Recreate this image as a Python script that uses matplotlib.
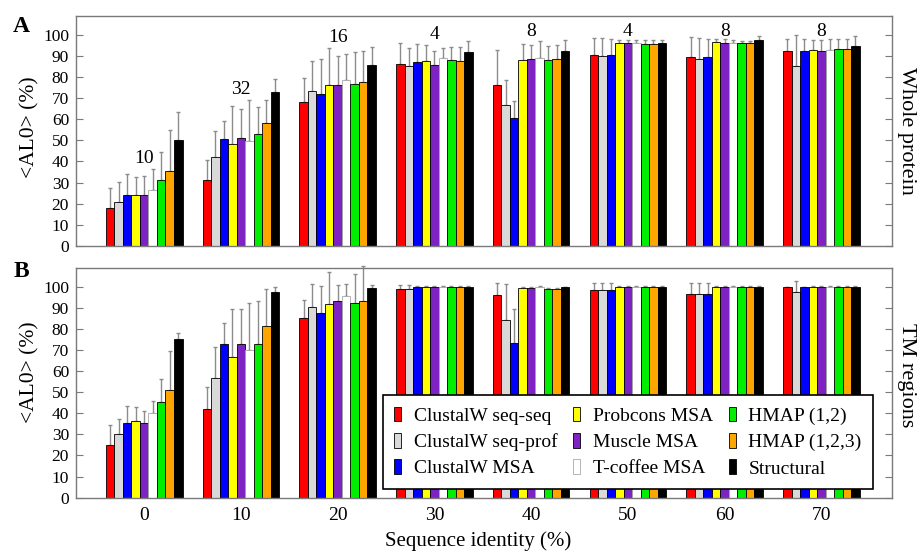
import numpy as np
import matplotlib
matplotlib.use('Agg')
import matplotlib.pyplot as plt

plt.rcParams['font.family'] = ['Liberation Serif', 'DejaVu Serif']

# Sequence identity bins (%)
identity = [0, 10, 20, 30, 40, 50, 60, 70]
# number of pairs per bin (printed over panel A)
n_pairs = [10, 32, 16, 4, 8, 4, 8, 8]

methods = ['ClustalW seq-seq', 'ClustalW seq-prof', 'ClustalW MSA',
           'Probcons MSA', 'Muscle MSA', 'T-coffee MSA',
           'HMAP (1,2)', 'HMAP (1,2,3)', 'Structural']
colors = ['#ff0000', '#d9d9d9', '#0000ff', '#ffff00', '#7f22c4',
          '#ffffff', '#00ee00', '#ffa500', '#000000']

# Panel A: whole protein, <AL0> mean (rows = methods, cols = identity bins)
whole_mean = [
    [17.9, 31.3, 68.1, 86.3, 76.3, 90.5, 89.4, 92.4],
    [21.0, 42.0, 73.5, 85.0, 66.8, 90.0, 88.5, 85.3],
    [24.2, 50.6, 72.0, 87.2, 60.8, 90.2, 89.3, 92.4],
    [24.2, 48.2, 76.1, 87.5, 88.2, 96.0, 96.4, 92.9],
    [24.2, 51.3, 76.1, 85.8, 88.5, 96.0, 96.0, 92.4],
    [26.5, 49.8, 78.4, 88.8, 88.9, 96.0, 96.0, 92.6],
    [31.3, 52.8, 76.9, 87.8, 88.2, 95.7, 96.0, 93.2],
    [35.7, 58.1, 77.4, 87.7, 88.5, 95.7, 96.0, 93.2],
    [50.2, 73.0, 85.8, 91.8, 92.1, 96.0, 97.6, 94.5],
]
whole_sd = [
    [9.4, 9.5, 11.4, 9.6, 16.6, 7.9, 9.3, 5.5],
    [9.5, 12.2, 14.2, 8.8, 11.6, 8.4, 9.9, 14.7],
    [9.9, 8.6, 16.5, 8.4, 7.6, 7.7, 8.8, 5.5],
    [8.3, 18.2, 17.6, 7.4, 7.5, 1.6, 1.5, 4.7],
    [8.7, 13.6, 13.6, 6.5, 6.8, 1.6, 1.9, 5.2],
    [9.8, 19.4, 12.4, 4.7, 7.9, 1.3, 1.6, 5.3],
    [13.4, 13.1, 14.7, 6.5, 6.6, 1.6, 0.8, 4.7],
    [19.3, 10.8, 15.0, 6.3, 6.8, 1.6, 1.1, 4.7],
    [13.0, 6.1, 8.2, 5.0, 5.5, 1.3, 1.6, 4.7],
]

# Panel B: TM regions
tm_mean = [
    [25.0, 42.2, 85.0, 98.9, 96.0, 98.4, 96.5, 99.7],
    [30.0, 56.9, 90.4, 98.7, 84.2, 98.4, 96.5, 97.3],
    [35.5, 72.7, 87.4, 99.7, 73.5, 98.4, 96.5, 99.7],
    [36.5, 66.8, 91.8, 99.8, 99.6, 99.8, 99.8, 99.8],
    [35.5, 73.0, 93.4, 99.7, 99.6, 99.8, 99.8, 99.8],
    [40.0, 70.0, 95.7, 99.8, 99.8, 99.8, 99.8, 99.8],
    [45.5, 73.0, 92.1, 99.8, 98.8, 99.8, 99.8, 99.8],
    [50.9, 81.4, 93.2, 99.8, 98.8, 99.8, 99.8, 99.8],
    [75.0, 97.3, 99.5, 99.8, 99.7, 99.8, 99.8, 99.8],
]
tm_sd = [
    [9.6, 10.2, 8.8, 1.9, 5.9, 3.2, 5.1, 0.3],
    [7.4, 14.5, 10.9, 2.3, 17.3, 3.2, 5.1, 5.4],
    [8.1, 10.2, 12.9, 0.4, 15.8, 3.2, 5.1, 0.3],
    [6.3, 22.6, 15.0, 0.4, 0.3, 0.3, 0.3, 0.3],
    [5.7, 16.3, 7.2, 0.4, 0.3, 0.3, 0.3, 0.3],
    [6.0, 22.1, 5.4, 0.3, 0.3, 0.3, 0.3, 0.3],
    [10.9, 20.2, 13.9, 0.3, 0.5, 0.3, 0.3, 0.3],
    [18.8, 17.3, 16.5, 0.3, 0.5, 0.3, 0.3, 0.3],
    [2.9, 2.7, 1.3, 0.3, 0.3, 0.3, 0.3, 0.3],
]

bar_w = 0.88
frame_col = '#7a7a7a'
err_col = '#8c8c8c'
x = np.array(identity, dtype=float)


def draw_panel(ax, mean, sd):
    mean = np.array(mean)
    sd = np.array(sd)
    for i, (name, col) in enumerate(zip(methods, colors)):
        xs = x + (i - 4) * bar_w
        edge = '#a8a8a8' if col == '#ffffff' else 'black'
        ax.bar(xs, mean[i], width=bar_w, color=col, edgecolor=edge,
               linewidth=0.6, label=name, zorder=2)
        eb = ax.errorbar(xs, mean[i], yerr=[np.zeros(len(x)), sd[i]], fmt='none',
                         ecolor=err_col, elinewidth=1.0, capsize=1.6,
                         capthick=1.0, zorder=1)
        for art in list(eb.lines[1]) + list(eb.lines[2]):
            art.set_clip_on(False)
    ax.set_xlim(-7.05, 77.3)
    ax.set_ylim(0, 109)
    ax.set_yticks(range(0, 101, 10))
    ax.set_xticks(identity)
    ax.tick_params(axis='y', direction='in', length=5, width=0.8, color=frame_col,
                   right=True, labelsize=12.5, pad=5)
    ax.tick_params(axis='x', length=0, labelsize=14, pad=7)
    for sp in ax.spines.values():
        sp.set_color(frame_col)
        sp.set_linewidth(1.0)


fig = plt.figure(figsize=(9.2, 5.53), dpi=100)
ax_a = fig.add_axes([0.0826, 0.5552, 0.8870, 0.4164])
ax_b = fig.add_axes([0.0826, 0.1000, 0.8870, 0.4159])

draw_panel(ax_a, whole_mean, whole_sd)
draw_panel(ax_b, tm_mean, tm_sd)
ax_a.tick_params(axis='x', labelbottom=False)
ax_b.set_xticklabels([str(v) for v in identity])

# pair counts above the middle bars of each group
wm = np.array(whole_mean) + np.array(whole_sd)
for j, n in enumerate(n_pairs):
    ytxt = min(wm[3:6, j].max() + 5, 101.5)
    ax_a.text(identity[j], ytxt, str(n), ha='center', va='center', fontsize=14)

# legend inside panel B
leg = ax_b.legend(loc='upper left', bbox_to_anchor=(0.376, 0.447), ncol=3,
                  fontsize=14, frameon=True, fancybox=False, framealpha=1,
                  edgecolor='black', handlelength=0.36, handleheight=0.8,
                  handletextpad=0.65, labelspacing=0.42, columnspacing=0.8,
                  borderpad=0.6, borderaxespad=0)
leg.get_frame().set_linewidth(1.2)

# labels
fig.text(30 / 920, 1 - 127 / 553, '<AL0> (%)', rotation=90, ha='center', va='center', fontsize=15.5)
fig.text(30 / 920, 1 - 372 / 553, '<AL0> (%)', rotation=90, ha='center', va='center', fontsize=15.5)
fig.text(21 / 920, 1 - 27 / 553, 'A', ha='center', va='center', fontsize=17, fontweight='bold')
fig.text(21 / 920, 1 - 272 / 553, 'B', ha='center', va='center', fontsize=17, fontweight='bold')
fig.text(907 / 920, 1 - 131 / 553, 'Whole protein', rotation=270, ha='center', va='center', fontsize=16)
fig.text(907 / 920, 1 - 375 / 553, 'TM regions', rotation=270, ha='center', va='center', fontsize=16)
fig.text(478 / 920, 1 - 541 / 553, 'Sequence identity (%)', ha='center', va='center', fontsize=15)

plt.savefig('out.png', dpi=100)
plt.close()
